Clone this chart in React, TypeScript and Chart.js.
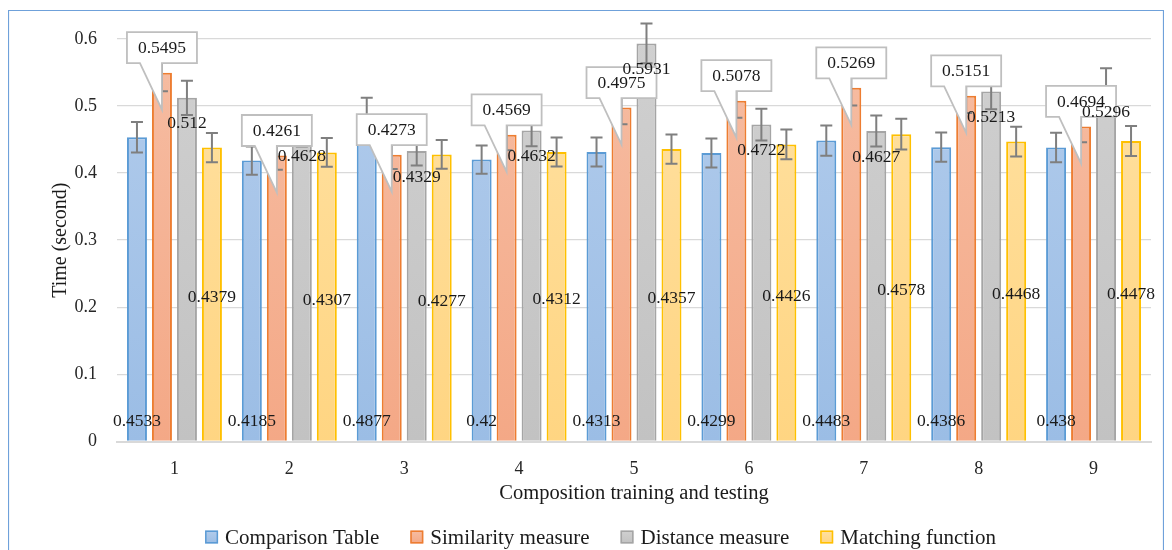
import React, { useEffect, useRef } from "react";
import { Chart, registerables } from "chart.js";

Chart.register(...registerables);

const categories = ["1", "2", "3", "4", "5", "6", "7", "8", "9"];
const seriesNames = ["Comparison Table", "Similarity measure", "Distance measure", "Matching function"];

const comparisonTable = [0.4533, 0.4185, 0.4877, 0.42, 0.4313, 0.4299, 0.4483, 0.4386, 0.438];
const similarityMeasure = [0.5495, 0.4261, 0.4273, 0.4569, 0.4975, 0.5078, 0.5269, 0.5151, 0.4694];
const distanceMeasure = [0.512, 0.4628, 0.4329, 0.4632, 0.5931, 0.4722, 0.4627, 0.5213, 0.5296];
const matchingFunction = [0.4379, 0.4307, 0.4277, 0.4312, 0.4357, 0.4426, 0.4578, 0.4468, 0.4478];

const comparisonErr = [0.0227, 0.0209, 0.0244, 0.021, 0.0216, 0.0215, 0.0224, 0.0219, 0.0219];
const similarityErr = [0.0275, 0.0213, 0.0214, 0.0228, 0.0249, 0.0254, 0.0263, 0.0258, 0.0235];
const distanceErr = [0.0256, 0.0231, 0.0216, 0.0232, 0.0297, 0.0236, 0.0231, 0.0261, 0.0265];
const matchingErr = [0.0219, 0.0215, 0.0214, 0.0216, 0.0218, 0.0221, 0.0229, 0.0223, 0.0224];

const yTickLabels = ["0", "0.1", "0.2", "0.3", "0.4", "0.5", "0.6"];
const xTitle = "Composition training and testing";
const yTitle = "Time (second)";

const FONT = '"Liberation Serif", "Times New Roman", serif';
const fillTop = ["#B2CCEC", "#F6BDA3", "#D0D0D0", "#FFE1A2"];
const fillBottom = ["#9BBDE5", "#F4A886", "#C2C2C2", "#FFD582"];
const borderCols = ["#5B9BD5", "#ED7D31", "#A5A5A5", "#FFC000"];

const W = 1156;
const H = 542;

function fmt(v: number): string {
  return String(v);
}

const overlayPlugin = {
  id: "overlay",
  beforeDraw(chart: any) {
    const ctx = chart.ctx;
    ctx.save();
    ctx.fillStyle = "#ffffff";
    ctx.fillRect(0, 0, chart.width, chart.height);
    ctx.strokeStyle = "#6FA1DA";
    ctx.lineWidth = 1.2;
    ctx.beginPath();
    ctx.moveTo(0.5, chart.height + 5);
    ctx.lineTo(0.5, 2.5);
    ctx.lineTo(chart.width - 0.5, 2.5);
    ctx.lineTo(chart.width - 0.5, chart.height + 5);
    ctx.stroke();
    ctx.restore();
  },
  afterDatasetsDraw(chart: any) {
    const ctx = chart.ctx;
    const yScale = chart.scales.y;
    const base = yScale.getPixelForValue(0);
    const errs = [comparisonErr, similarityErr, distanceErr, matchingErr];
    ctx.save();
    // error bars
    ctx.strokeStyle = "#7F7F7F";
    ctx.lineWidth = 2;
    chart.data.datasets.forEach((ds: any, di: number) => {
      const meta = chart.getDatasetMeta(di);
      meta.data.forEach((bar: any, i: number) => {
        const v = ds.data[i];
        const e = errs[di][i];
        const x = bar.x;
        const yT = yScale.getPixelForValue(v + e);
        const yB = yScale.getPixelForValue(v - e);
        ctx.beginPath();
        ctx.moveTo(x, yT);
        ctx.lineTo(x, yB);
        ctx.moveTo(x - 6, yT);
        ctx.lineTo(x + 6, yT);
        ctx.moveTo(x - 6, yB);
        ctx.lineTo(x + 6, yB);
        ctx.stroke();
      });
    });

    const labelFont = `17.5px ${FONT}`;
    ctx.font = labelFont;
    ctx.textAlign = "center";
    ctx.textBaseline = "middle";

    // callouts for similarity measure
    const simMeta = chart.getDatasetMeta(1);
    simMeta.data.forEach((bar: any, i: number) => {
      const cx = bar.x;
      const cy = bar.y - 25;
      const bw = 70;
      const bh = 31;
      const l = cx - bw / 2;
      const r = cx + bw / 2;
      const t = cy - bh / 2;
      const b = cy + bh / 2;
      ctx.beginPath();
      ctx.moveTo(l, t);
      ctx.lineTo(r, t);
      ctx.lineTo(r, b);
      ctx.lineTo(cx, b);
      ctx.lineTo(cx, bar.y + 37);
      ctx.lineTo(cx - 22, b);
      ctx.lineTo(l, b);
      ctx.closePath();
      ctx.fillStyle = "#ffffff";
      ctx.fill();
      ctx.strokeStyle = "#BFBFBF";
      ctx.lineWidth = 1.8;
      ctx.stroke();
      ctx.fillStyle = "#1A1A1A";
      ctx.fillText(fmt(similarityMeasure[i]), cx, cy + 1);
    });

    ctx.fillStyle = "#1A1A1A";
    // comparison table labels (inside base)
    chart.getDatasetMeta(0).data.forEach((bar: any, i: number) => {
      ctx.fillText(fmt(comparisonTable[i]), bar.x, base - 20.5);
    });
    // distance labels (inside end)
    chart.getDatasetMeta(2).data.forEach((bar: any, i: number) => {
      ctx.fillText(fmt(distanceMeasure[i]), bar.x, bar.y + 26);
    });
    // matching labels (center)
    chart.getDatasetMeta(3).data.forEach((bar: any, i: number) => {
      ctx.fillText(fmt(matchingFunction[i]), bar.x, (bar.y + base) / 2 + 3);
    });

    // legend
    ctx.font = `21px ${FONT}`;
    ctx.textAlign = "left";
    const box = 13;
    const gap = 7;
    const spacing = 31;
    const widths = seriesNames.map((n) => ctx.measureText(n).width);
    const total = widths.reduce((a, w) => a + w + box + gap, 0) + spacing * (seriesNames.length - 1);
    let x = 592.5 - total / 2;
    const ly = 529;
    seriesNames.forEach((n, k) => {
      const g = ctx.createLinearGradient(0, ly - box / 2, 0, ly + box / 2);
      g.addColorStop(0, fillTop[k]);
      g.addColorStop(1, fillBottom[k]);
      ctx.fillStyle = g;
      ctx.fillRect(x, ly - box / 2, box, box);
      ctx.strokeStyle = borderCols[k];
      ctx.lineWidth = 1.5;
      ctx.strokeRect(x + 0.75, ly - box / 2 + 0.75, box - 1.5, box - 1.5);
      ctx.fillStyle = "#1A1A1A";
      ctx.fillText(n, x + box + gap, ly + 1);
      x += box + gap + widths[k] + spacing;
    });
    ctx.restore();
  },
};

function makeFill(k: number) {
  return (c: any) => {
    const chart = c.chart;
    const area = chart.chartArea;
    if (!area) return fillBottom[k];
    const g = chart.ctx.createLinearGradient(0, area.top, 0, area.bottom);
    g.addColorStop(0, fillTop[k]);
    g.addColorStop(1, fillBottom[k]);
    return g;
  };
}

export default function App() {
  const ref = useRef<HTMLCanvasElement | null>(null);
  useEffect(() => {
    if (!ref.current) return;
    const seriesData = [comparisonTable, similarityMeasure, distanceMeasure, matchingFunction];
    const chart = new Chart(ref.current, {
      type: "bar",
      data: {
        labels: categories,
        datasets: seriesData.map((d, k) => ({
          label: seriesNames[k],
          data: d,
          backgroundColor: makeFill(k),
          borderColor: borderCols[k],
          borderWidth: 2,
          barPercentage: 0.8,
          categoryPercentage: 0.87,
        })),
      },
      options: {
        responsive: false,
        animation: false,
        devicePixelRatio: 1,
        layout: { padding: { left: 0, right: 13, top: 30, bottom: 38.5 } },
        plugins: {
          legend: { display: false },
          tooltip: { enabled: false },
        },
        scales: {
          x: {
            grid: { display: false },
            border: { display: true, color: "#D9D9D9", width: 2 },
            ticks: { color: "#262626", font: { family: FONT, size: 18 }, padding: 9 },
            title: {
              display: true,
              text: xTitle,
              color: "#1A1A1A",
              font: { family: FONT, size: 20.5 },
              padding: { top: 0, bottom: 5.5 },
            },
            afterFit: (s: any) => {
              s.height = 70;
            },
          },
          y: {
            min: 0,
            max: 0.6,
            grid: { color: "#D9D9D9", lineWidth: 1.3, drawTicks: false },
            border: { display: false },
            ticks: {
              stepSize: 0.1,
              color: "#262626",
              font: { family: FONT, size: 18 },
              padding: 20,
              callback: (_v: any, i: number) => yTickLabels[i],
            },
            title: {
              display: true,
              text: yTitle,
              color: "#1A1A1A",
              font: { family: FONT, size: 20 },
              padding: { top: 41, bottom: 0 },
            },
            afterFit: (s: any) => {
              s.width = 109;
            },
          },
        },
      },
      plugins: [overlayPlugin],
    });
    return () => chart.destroy();
  }, []);
  return (
    <div style={{ width: W, height: H }}>
      <canvas ref={ref} width={W} height={H} style={{ display: "block", width: W, height: H }} />
    </div>
  );
}
